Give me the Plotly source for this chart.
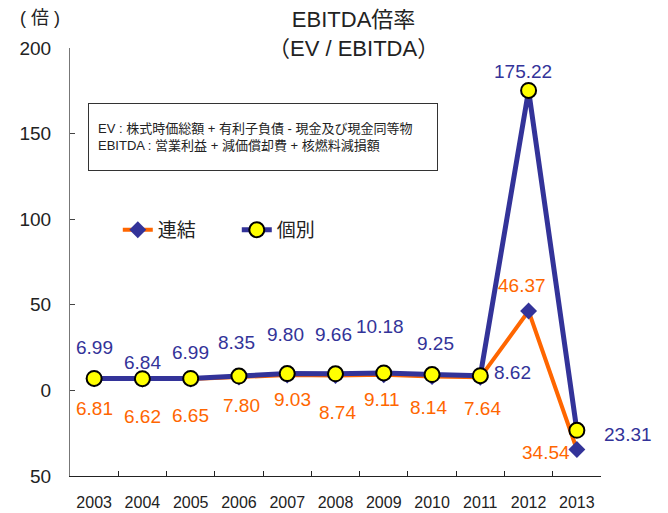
import plotly.graph_objects as go

# データ
years = ["2003", "2004", "2005", "2006", "2007", "2008", "2009", "2010", "2011", "2012", "2013"]
renketsu = [6.81, 6.62, 6.65, 7.80, 9.03, 8.74, 9.11, 8.14, 7.64, 46.37, -34.54]
kobetsu = [6.99, 6.84, 6.99, 8.35, 9.80, 9.66, 10.18, 9.25, 8.62, 175.22, -23.31]
renketsu_text = ["6.81", "6.62", "6.65", "7.80", "9.03", "8.74", "9.11", "8.14", "7.64", "46.37", "34.54"]
kobetsu_text = ["6.99", "6.84", "6.99", "8.35", "9.80", "9.66", "10.18", "9.25", "8.62", "175.22", "23.31"]
y_tickvals = [-50, 0, 50, 100, 150, 200]
y_ticktext = ["50", "0", "50", "100", "150", "200"]

ORANGE = "#FF6600"
NAVY = "#333399"
FONT = "Liberation Sans, Arial, Noto Sans CJK JP"

# ラベルのずらし (px)
renketsu_shift = [(0, -30), (0, -37), (0, -36), (3, -28), (5, -25), (2, -37),
                  (-2, -25), (-4, -31), (2, -31), (-7, 26), (-31, -3)]
kobetsu_shift = [(0, 31), (0, 16), (0, 26), (-2, 34), (-2, 39), (-2, 39),
                 (-4, 46), (3, 31), (32, 3), (-6, 19), (51, -4)]

fig = go.Figure()

fig.add_trace(go.Scatter(
    x=years, y=renketsu, name="連結", mode="lines+markers",
    line=dict(color=ORANGE, width=4),
    marker=dict(symbol="diamond", size=13, color=NAVY),
))
fig.add_trace(go.Scatter(
    x=years, y=kobetsu, name="個別", mode="lines+markers",
    line=dict(color=NAVY, width=5),
    marker=dict(symbol="circle", size=15, color="#FFFF00", line=dict(color="black", width=2)),
))

# データラベル (カテゴリ軸なので x はインデックス)
for vals, texts, shifts, col in [(renketsu, renketsu_text, renketsu_shift, ORANGE),
                                 (kobetsu, kobetsu_text, kobetsu_shift, NAVY)]:
    for i, (v, t, (dx, dy)) in enumerate(zip(vals, texts, shifts)):
        fig.add_annotation(x=i, y=v, text=t, showarrow=False,
                           xshift=dx, yshift=dy,
                           font=dict(size=19, color=col, family=FONT))

# タイトル
fig.add_annotation(x=0.533, y=1.100, xref="paper", yref="paper", xanchor="center", yanchor="top",
                   text="EBITDA倍率<br>（EV / EBITDA）", showarrow=False,
                   font=dict(size=22, color="#222", family=FONT))

# 単位
fig.add_annotation(x=-0.056, y=1.070, xref="paper", yref="paper",
                   xanchor="center", yanchor="middle", text="( 倍 )",
                   showarrow=False, font=dict(size=18, color="#222", family=FONT))

# 定義の枠
fig.add_annotation(
    x=0.034, y=0.871, xref="paper", yref="paper", xanchor="left", yanchor="top",
    text="EV : 株式時価総額 + 有利子負債 - 現金及び現金同等物<br>EBITDA : 営業利益 + 減価償却費 + 核燃料減損額",
    showarrow=False, align="left", valign="middle", width=330, height=48,
    bordercolor="#333", borderwidth=1, borderpad=9, bgcolor="white",
    font=dict(size=13, color="#222", family=FONT),
)

fig.update_layout(
    width=668, height=513,
    margin=dict(l=70, r=67, t=48, b=37, autoexpand=False),
    plot_bgcolor="white", paper_bgcolor="white",
    font=dict(family=FONT, color="#222"),
    legend=dict(orientation="h", x=0.090, y=0.575, xanchor="left", yanchor="middle",
                entrywidth=74, entrywidthmode="pixels",
                font=dict(size=19, family=FONT, color="#222"), bgcolor="rgba(0,0,0,0)"),
    showlegend=True,
)

fig.update_xaxes(type="category", range=[-0.5, len(years) - 0.5], automargin=False,
                 showgrid=False, zeroline=False,
                 showline=True, linecolor="#222", linewidth=1,
                 ticks="inside", tickson="boundaries", ticklen=5, tickcolor="#222",
                 tickfont=dict(size=16, family=FONT, color="#222"),
                 ticklabelstandoff=12)
fig.update_yaxes(range=[-50, 200], automargin=False, showgrid=False, zeroline=False,
                 showline=True, linecolor="#777", linewidth=1,
                 tickvals=y_tickvals, ticktext=y_ticktext,
                 ticks="inside", ticklen=5, tickcolor="#444",
                 tickfont=dict(size=19, family=FONT, color="#222"),
                 ticklabelstandoff=14)

# ページ余白を消す
fig.write_html("out.html", config={"displayModeBar": False},
               post_script="document.body.style.margin='0';")
